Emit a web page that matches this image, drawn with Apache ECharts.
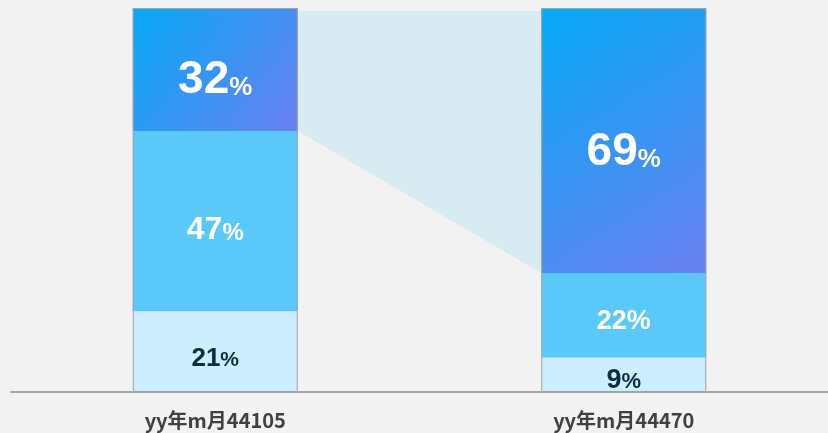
<!DOCTYPE html>
<html>
<head>
<meta charset="utf-8">
<script src="https://cdn.jsdelivr.net/npm/echarts@6/dist/echarts.min.js"></script>
<style>
  html, body { margin: 0; padding: 0; background: #f2f2f2; }
  #chart { width: 828px; height: 433px; }
</style>
</head>
<body>
<div id="chart"></div>
<script>
// 数据
const categories = ['yy年m月44105', 'yy年m月44470']
const lowValues = [21, 9]
const midValues = [47, 22]
const topValues = [32, 69]

const BAR_WIDTH = 165
const chart = echarts.init(document.getElementById('chart'))

// 每个柱子的标签: [数字字号, 百分号字号, 垂直偏移]
const topStyle = [[46, 26, 11], [46, 26, 12]]
const midStyle = [[32, 24, 9], [27, 27, 6]]
const lowStyle = [[26, 21, 7], [27, 22, 6]]

function makeData(values, styles, color) {
  return values.map((v, i) => {
    const [n, p, dy] = styles[i]
    return {
      value: v,
      label: {
        offset: [0, dy],
        rich: {
          n: { fontSize: n, lineHeight: n, verticalAlign: 'bottom', fontWeight: 'bold', color: color, fontFamily: 'Liberation Sans' },
          p: {
            fontSize: p, lineHeight: p, verticalAlign: 'bottom', fontWeight: 'bold', color: color, fontFamily: 'Liberation Sans',
            padding: [0, 0, Math.round((n - p) * 0.16), 0]
          }
        }
      }
    }
  })
}

const labelBase = {
  show: true,
  position: 'inside',
  formatter: p => '{n|' + p.value + '}{p|%}'
}

const option = {
  backgroundColor: '#f2f2f2',
  animation: false,
  grid: { left: 11, width: 822, top: 8, bottom: 41 },
  xAxis: {
    type: 'category',
    data: categories,
    axisTick: { show: false },
    axisLine: { lineStyle: { color: '#a6a6a6', width: 2 } },
    axisLabel: {
      margin: 18,
      color: '#404040',
      fontSize: 20,
      fontWeight: 'bold',
      fontFamily: 'Noto Sans CJK SC'
    }
  },
  yAxis: { type: 'value', min: 0, max: 100, show: false },
  series: [
    {
      // 连接区域
      type: 'custom',
      z: 1,
      silent: true,
      data: [0],
      renderItem: (params, api) => {
        const half = BAR_WIDTH / 2
        const lt = api.coord([0, 100])
        const lb = api.coord([0, lowValues[0] + midValues[0]])
        const rb = api.coord([1, lowValues[1] + midValues[1]])
        const rt = api.coord([1, 100])
        return {
          type: 'polygon',
          shape: {
            points: [
              [lt[0] + half, lt[1] + 3],
              [lb[0] + half, lb[1]],
              [rb[0] - half, rb[1]],
              [rt[0] - half, rt[1] + 3]
            ]
          },
          style: { fill: '#d9ebf2' }
        }
      }
    },
    {
      type: 'bar',
      stack: 'total',
      z: 3,
      barWidth: BAR_WIDTH,
      barGap: '-100%',
      itemStyle: { color: '#cdeefe' },
      label: labelBase,
      data: makeData(lowValues, lowStyle, '#0d2b42')
    },
    {
      type: 'bar',
      stack: 'total',
      z: 3,
      barWidth: BAR_WIDTH,
      barGap: '-100%',
      itemStyle: { color: '#5bc8fa' },
      label: labelBase,
      data: makeData(midValues, midStyle, '#ffffff')
    },
    {
      type: 'bar',
      stack: 'total',
      z: 3,
      barWidth: BAR_WIDTH,
      barGap: '-100%',
      itemStyle: {
        color: new echarts.graphic.LinearGradient(0, 0, 1, 1, [
          { offset: 0, color: '#05a9f6' },
          { offset: 1, color: '#6a80f1' }
        ])
      },
      label: labelBase,
      data: makeData(topValues, topStyle, '#ffffff')
    },
    {
      // 外框
      type: 'bar',
      z: 4,
      barWidth: BAR_WIDTH,
      barGap: '-100%',
      silent: true,
      data: [100, 100],
      itemStyle: { color: 'rgba(0,0,0,0)', borderColor: '#a3a3a3', borderWidth: 1 }
    }
  ]
}
chart.setOption(option)
</script>
</body>
</html>
